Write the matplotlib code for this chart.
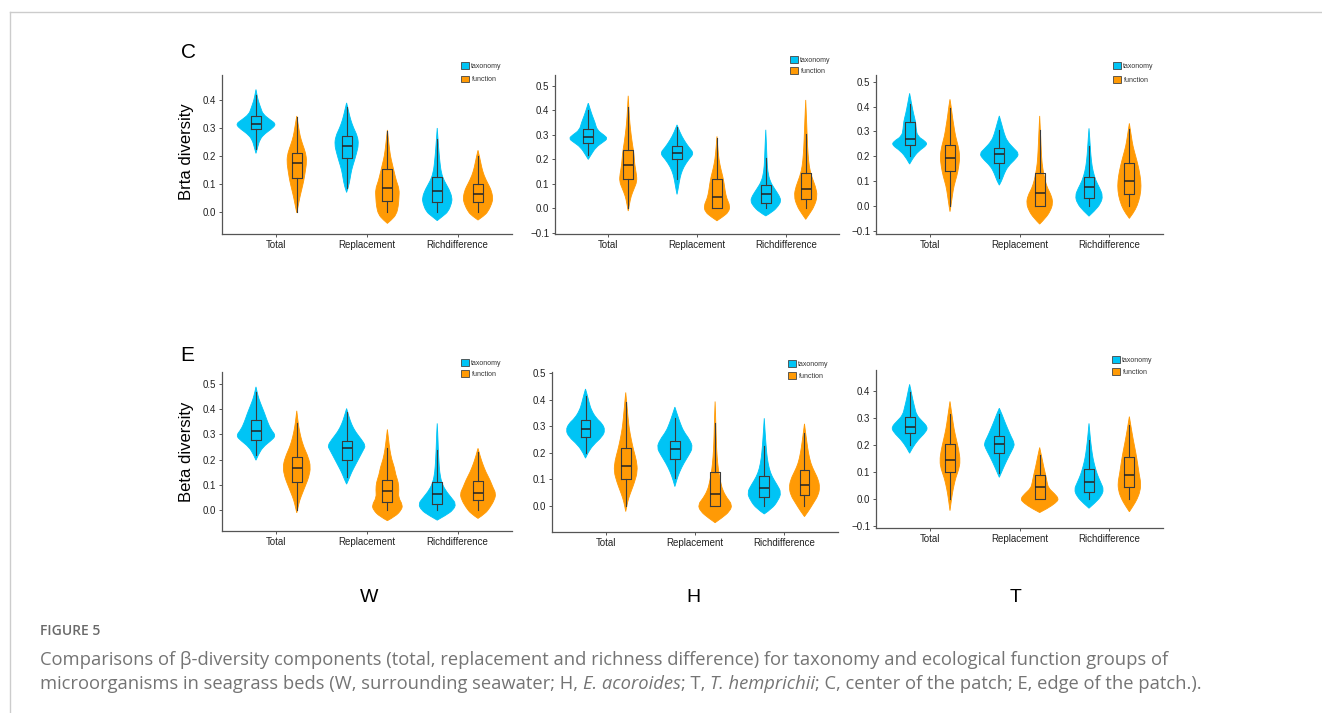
import numpy as np
import matplotlib
matplotlib.use("Agg")
import matplotlib.pyplot as plt
from matplotlib.patches import Patch, PathPatch
from matplotlib.path import Path
from matplotlib.lines import Line2D

plt.rcParams['font.family'] = ['Liberation Sans', 'DejaVu Sans']

groups = ['Total', 'Replacement', 'Richdifference']
series = ['taxonomy', 'function']
colors = ['#00C4F5', '#FF9A05']

# box stats per group: [whisker low, q1, median, q3, whisker high]
box_cw_tax = [[0.223, 0.295, 0.316, 0.344, 0.418], [0.084, 0.192, 0.235, 0.273, 0.374], [0.0, 0.033, 0.073, 0.125, 0.26]]
box_cw_fun = [[0.0, 0.119, 0.173, 0.211, 0.338], [0.0, 0.039, 0.084, 0.152, 0.29], [0.0, 0.036, 0.062, 0.099, 0.2]]
box_ch_tax = [[0.22, 0.267, 0.29, 0.324, 0.402], [0.118, 0.2, 0.226, 0.253, 0.332], [0.0, 0.023, 0.057, 0.096, 0.206]]
box_ch_fun = [[0.0, 0.118, 0.178, 0.24, 0.416], [0.0, 0.0, 0.046, 0.121, 0.287], [0.0, 0.039, 0.08, 0.145, 0.303]]
box_ct_tax = [[0.2, 0.245, 0.271, 0.336, 0.41], [0.11, 0.173, 0.207, 0.231, 0.305], [0.0, 0.03, 0.074, 0.114, 0.24]]
box_ct_fun = [[0.0, 0.14, 0.194, 0.243, 0.392], [0.0, 0.0, 0.05, 0.13, 0.305], [0.0, 0.046, 0.098, 0.171, 0.308]]
box_ew_tax = [[0.218, 0.28, 0.313, 0.357, 0.47], [0.132, 0.198, 0.245, 0.275, 0.39], [0.0, 0.024, 0.063, 0.11, 0.238]]
box_ew_fun = [[0.0, 0.112, 0.167, 0.209, 0.347], [0.0, 0.033, 0.075, 0.119, 0.245], [0.0, 0.04, 0.066, 0.116, 0.231]]
box_eh_tax = [[0.198, 0.261, 0.29, 0.322, 0.412], [0.104, 0.178, 0.215, 0.246, 0.33], [0.0, 0.035, 0.069, 0.114, 0.224]]
box_eh_fun = [[0.0, 0.1, 0.152, 0.217, 0.393], [0.0, 0.0, 0.044, 0.126, 0.312], [0.0, 0.04, 0.079, 0.136, 0.276]]
box_et_tax = [[0.2, 0.245, 0.267, 0.302, 0.396], [0.095, 0.169, 0.202, 0.234, 0.314], [0.0, 0.027, 0.062, 0.11, 0.218]]
box_et_fun = [[0.0, 0.1, 0.144, 0.203, 0.314], [0.0, 0.0, 0.046, 0.089, 0.162], [0.0, 0.046, 0.09, 0.156, 0.273]]

# violin outlines: (value, relative half width)
vio_cw_tax = [
    [(0.209, 0), (0.23, 0.08), (0.26, 0.2), (0.28, 0.45), (0.30, 0.85), (0.315, 1.0), (0.33, 0.7), (0.35, 0.35), (0.37, 0.25), (0.39, 0.15), (0.41, 0.07), (0.438, 0)],
    [(0.069, 0), (0.09, 0.1), (0.12, 0.18), (0.15, 0.25), (0.18, 0.38), (0.21, 0.5), (0.24, 0.6), (0.27, 0.55), (0.30, 0.35), (0.33, 0.2), (0.36, 0.1), (0.39, 0)],
    [(-0.032, 0), (-0.015, 0.3), (0.0, 0.55), (0.03, 0.72), (0.05, 0.75), (0.08, 0.6), (0.11, 0.35), (0.14, 0.2), (0.18, 0.13), (0.22, 0.08), (0.26, 0.04), (0.30, 0)],
]
vio_cw_fun = [
    [(-0.004, 0), (0.02, 0.07), (0.05, 0.15), (0.08, 0.25), (0.11, 0.35), (0.14, 0.42), (0.18, 0.5), (0.21, 0.45), (0.24, 0.3), (0.27, 0.17), (0.30, 0.1), (0.343, 0)],
    [(-0.042, 0), (-0.03, 0.2), (-0.01, 0.45), (0.02, 0.55), (0.05, 0.58), (0.08, 0.6), (0.11, 0.45), (0.14, 0.35), (0.17, 0.25), (0.20, 0.15), (0.24, 0.08), (0.293, 0)],
    [(-0.03, 0), (-0.015, 0.3), (0.0, 0.5), (0.03, 0.7), (0.05, 0.75), (0.08, 0.65), (0.10, 0.5), (0.13, 0.3), (0.16, 0.18), (0.19, 0.1), (0.22, 0)],
]
vio_ch_tax = [
    [(0.20, 0), (0.22, 0.15), (0.25, 0.4), (0.27, 0.75), (0.285, 1.0), (0.30, 0.8), (0.32, 0.45), (0.35, 0.35), (0.38, 0.2), (0.41, 0.08), (0.43, 0)],
    [(0.057, 0), (0.08, 0.06), (0.11, 0.12), (0.14, 0.2), (0.17, 0.35), (0.20, 0.6), (0.225, 0.87), (0.25, 0.6), (0.28, 0.35), (0.31, 0.15), (0.341, 0)],
    [(-0.031, 0), (-0.015, 0.35), (0.01, 0.65), (0.03, 0.78), (0.05, 0.7), (0.08, 0.45), (0.11, 0.22), (0.15, 0.1), (0.20, 0.06), (0.25, 0.04), (0.321, 0)],
]
vio_ch_fun = [
    [(-0.011, 0), (0.02, 0.07), (0.05, 0.15), (0.08, 0.3), (0.11, 0.45), (0.14, 0.42), (0.18, 0.33), (0.22, 0.3), (0.26, 0.22), (0.30, 0.15), (0.35, 0.08), (0.40, 0.04), (0.46, 0)],
    [(-0.051, 0), (-0.035, 0.3), (-0.015, 0.6), (0.01, 0.67), (0.04, 0.5), (0.07, 0.42), (0.10, 0.37), (0.13, 0.3), (0.16, 0.2), (0.20, 0.1), (0.25, 0.04), (0.294, 0)],
    [(-0.045, 0), (-0.02, 0.22), (0.01, 0.45), (0.05, 0.6), (0.09, 0.5), (0.13, 0.3), (0.17, 0.18), (0.22, 0.12), (0.28, 0.08), (0.35, 0.05), (0.443, 0)],
]
vio_ct_tax = [
    [(0.168, 0), (0.19, 0.15), (0.22, 0.45), (0.245, 0.9), (0.26, 0.8), (0.28, 0.4), (0.31, 0.33), (0.34, 0.3), (0.37, 0.2), (0.41, 0.1), (0.453, 0)],
    [(0.083, 0), (0.10, 0.12), (0.13, 0.25), (0.16, 0.45), (0.19, 0.85), (0.21, 1.0), (0.23, 0.75), (0.26, 0.4), (0.29, 0.25), (0.32, 0.15), (0.362, 0)],
    [(-0.042, 0), (-0.02, 0.3), (0.01, 0.6), (0.04, 0.7), (0.07, 0.55), (0.10, 0.35), (0.14, 0.2), (0.18, 0.12), (0.23, 0.07), (0.27, 0.04), (0.312, 0)],
]
vio_ct_fun = [
    [(-0.024, 0), (0.0, 0.05), (0.04, 0.12), (0.08, 0.2), (0.12, 0.35), (0.16, 0.45), (0.20, 0.5), (0.24, 0.42), (0.28, 0.28), (0.32, 0.2), (0.36, 0.12), (0.40, 0.06), (0.429, 0)],
    [(-0.074, 0), (-0.05, 0.3), (-0.02, 0.55), (0.01, 0.67), (0.04, 0.6), (0.07, 0.4), (0.10, 0.28), (0.13, 0.2), (0.17, 0.12), (0.22, 0.08), (0.28, 0.05), (0.362, 0)],
    [(-0.051, 0), (-0.03, 0.2), (0.0, 0.4), (0.04, 0.55), (0.08, 0.6), (0.12, 0.55), (0.16, 0.45), (0.20, 0.32), (0.24, 0.18), (0.28, 0.1), (0.332, 0)],
]
vio_ew_tax = [
    [(0.198, 0), (0.22, 0.12), (0.25, 0.35), (0.275, 0.75), (0.295, 1.0), (0.32, 0.75), (0.35, 0.58), (0.38, 0.45), (0.41, 0.3), (0.44, 0.15), (0.47, 0.05), (0.489, 0)],
    [(0.103, 0), (0.12, 0.1), (0.15, 0.25), (0.18, 0.45), (0.21, 0.65), (0.24, 0.85), (0.255, 0.95), (0.28, 0.75), (0.31, 0.45), (0.34, 0.25), (0.37, 0.12), (0.403, 0)],
    [(-0.04, 0), (-0.02, 0.45), (0.0, 0.8), (0.025, 0.95), (0.05, 0.7), (0.08, 0.4), (0.11, 0.22), (0.15, 0.12), (0.20, 0.08), (0.25, 0.05), (0.30, 0.03), (0.344, 0)],
]
vio_ew_fun = [
    [(-0.011, 0), (0.01, 0.06), (0.04, 0.15), (0.07, 0.3), (0.10, 0.45), (0.13, 0.6), (0.17, 0.7), (0.21, 0.58), (0.25, 0.35), (0.29, 0.2), (0.33, 0.1), (0.36, 0.05), (0.394, 0)],
    [(-0.042, 0), (-0.025, 0.4), (0.0, 0.7), (0.02, 0.77), (0.05, 0.55), (0.08, 0.58), (0.11, 0.55), (0.14, 0.42), (0.17, 0.35), (0.20, 0.22), (0.24, 0.12), (0.28, 0.06), (0.32, 0)],
    [(-0.033, 0), (-0.015, 0.35), (0.01, 0.6), (0.04, 0.82), (0.065, 0.9), (0.09, 0.75), (0.12, 0.6), (0.15, 0.4), (0.18, 0.25), (0.21, 0.12), (0.245, 0)],
]
vio_eh_tax = [
    [(0.18, 0), (0.20, 0.12), (0.23, 0.4), (0.26, 0.85), (0.285, 1.0), (0.31, 0.85), (0.33, 0.55), (0.36, 0.3), (0.39, 0.18), (0.42, 0.08), (0.44, 0)],
    [(0.073, 0), (0.10, 0.1), (0.13, 0.25), (0.16, 0.45), (0.19, 0.7), (0.22, 0.92), (0.25, 0.75), (0.28, 0.45), (0.31, 0.28), (0.34, 0.14), (0.372, 0)],
    [(-0.03, 0), (-0.01, 0.4), (0.02, 0.7), (0.05, 0.87), (0.08, 0.65), (0.11, 0.4), (0.14, 0.25), (0.18, 0.15), (0.22, 0.1), (0.27, 0.05), (0.33, 0)],
]
vio_eh_fun = [
    [(-0.021, 0), (0.0, 0.05), (0.03, 0.15), (0.06, 0.3), (0.09, 0.45), (0.13, 0.6), (0.17, 0.55), (0.21, 0.4), (0.25, 0.28), (0.29, 0.18), (0.33, 0.12), (0.38, 0.06), (0.427, 0)],
    [(-0.063, 0), (-0.045, 0.35), (-0.02, 0.75), (0.005, 0.87), (0.03, 0.6), (0.06, 0.38), (0.09, 0.28), (0.12, 0.2), (0.16, 0.13), (0.21, 0.08), (0.27, 0.05), (0.33, 0.03), (0.393, 0)],
    [(-0.04, 0), (-0.02, 0.2), (0.01, 0.45), (0.04, 0.7), (0.07, 0.78), (0.10, 0.7), (0.13, 0.5), (0.16, 0.32), (0.20, 0.2), (0.24, 0.12), (0.28, 0.05), (0.309, 0)],
]
vio_et_tax = [
    [(0.169, 0), (0.19, 0.15), (0.22, 0.45), (0.245, 0.8), (0.265, 0.93), (0.29, 0.6), (0.31, 0.35), (0.34, 0.25), (0.37, 0.15), (0.40, 0.07), (0.423, 0)],
    [(0.08, 0), (0.10, 0.12), (0.13, 0.3), (0.16, 0.5), (0.19, 0.72), (0.205, 0.77), (0.23, 0.6), (0.26, 0.42), (0.29, 0.25), (0.31, 0.15), (0.335, 0)],
    [(-0.034, 0), (-0.015, 0.3), (0.01, 0.62), (0.035, 0.75), (0.06, 0.6), (0.09, 0.42), (0.12, 0.3), (0.15, 0.2), (0.19, 0.12), (0.23, 0.06), (0.279, 0)],
]
vio_et_fun = [
    [(-0.043, 0), (-0.01, 0.06), (0.02, 0.12), (0.05, 0.2), (0.08, 0.3), (0.11, 0.45), (0.14, 0.52), (0.18, 0.45), (0.22, 0.32), (0.26, 0.2), (0.30, 0.12), (0.33, 0.06), (0.36, 0)],
    [(-0.05, 0), (-0.035, 0.4), (-0.015, 0.8), (0.0, 0.98), (0.02, 0.75), (0.04, 0.45), (0.06, 0.38), (0.09, 0.3), (0.12, 0.2), (0.15, 0.12), (0.19, 0)],
    [(-0.047, 0), (-0.025, 0.2), (0.0, 0.4), (0.03, 0.55), (0.06, 0.58), (0.09, 0.5), (0.13, 0.42), (0.17, 0.33), (0.21, 0.22), (0.25, 0.12), (0.304, 0)],
]

panels = [
    # data, axes pixel box (left, top, right, bottom), ylim, yticks, legend (x, y, spacing)
    (box_cw_tax, box_cw_fun, vio_cw_tax, vio_cw_fun, (222, 75, 512, 234), (-0.08, 0.49), [0, 0.1, 0.2, 0.3, 0.4], (461, 62, 0.85)),
    (box_ch_tax, box_ch_fun, vio_ch_tax, vio_ch_fun, (555, 75, 839, 234), (-0.105, 0.545), [-0.1, 0, 0.1, 0.2, 0.3, 0.4, 0.5], (790, 56, 0.5)),
    (box_ct_tax, box_ct_fun, vio_ct_tax, vio_ct_fun, (876, 75, 1163, 234), (-0.114, 0.527), [-0.1, 0, 0.1, 0.2, 0.3, 0.4, 0.5], (1113, 62, 0.9)),
    (box_ew_tax, box_ew_fun, vio_ew_tax, vio_ew_fun, (222, 372, 512, 531), (-0.083, 0.548), [0, 0.1, 0.2, 0.3, 0.4, 0.5], (461, 359, 0.5)),
    (box_eh_tax, box_eh_fun, vio_eh_tax, vio_eh_fun, (552, 372, 838, 532), (-0.098, 0.504), [0, 0.1, 0.2, 0.3, 0.4, 0.5], (788, 360, 0.6)),
    (box_et_tax, box_et_fun, vio_et_tax, vio_et_fun, (876, 370, 1163, 528), (-0.107, 0.476), [-0.1, 0, 0.1, 0.2, 0.3, 0.4], (1112, 356, 0.6)),
]

W, H = 1322, 713
fig = plt.figure(figsize=(W / 100, H / 100), dpi=100)
fig.patch.set_facecolor('white')

# page frame
fig.add_artist(Line2D([10 / W, 1], [1 - 12 / H, 1 - 12 / H], color='#cccccc', lw=1))
fig.add_artist(Line2D([10 / W, 10 / W], [0, 1 - 12 / H], color='#cccccc', lw=1))

dodge = 0.225
max_hw = 0.22


def spline_side(pts):
    # quadratic curve through midpoints, anchored at both ends
    verts, codes = [], []
    for i in range(1, len(pts) - 1):
        end = pts[-1] if i == len(pts) - 2 else (pts[i] + pts[i + 1]) / 2
        verts += [pts[i], end]
        codes += [Path.CURVE3, Path.CURVE3]
    return verts, codes


def violin_patch(pos, prof, color):
    y = prof[:, 0]
    w = prof[:, 1] * max_hw
    right = np.column_stack([pos + w, y])
    left = np.column_stack([pos - w, y])[::-1]
    v1, c1 = spline_side(right)
    v2, c2 = spline_side(left)
    verts = [right[0]] + v1 + v2 + [right[0]]
    codes = [Path.MOVETO] + c1 + c2 + [Path.CLOSEPOLY]
    return PathPatch(Path(verts, codes), facecolor=color, edgecolor=color, lw=0.6, zorder=2)


for box_t, box_f, vio_t, vio_f, (l, t, r, b), ylim, yt, (lx, ly, lsp) in panels:
    ax = fig.add_axes([l / W, 1 - b / H, (r - l) / W, (b - t) / H])
    for i, g in enumerate(groups):
        for k, (bx, vio) in enumerate([(box_t, vio_t), (box_f, vio_f)]):
            pos = i + 1 + (-dodge if k == 0 else dodge)
            ax.add_patch(violin_patch(pos, np.array(vio[i], dtype=float), colors[k]))
            lo, q1, med, q3, hi = bx[i]
            stats = [dict(whislo=lo, q1=q1, med=med, q3=q3, whishi=hi, fliers=[])]
            ax.bxp(stats, positions=[pos], widths=0.11, showfliers=False, showcaps=False,
                   manage_ticks=False,
                   boxprops=dict(color='#3a3a3a', lw=0.8),
                   whiskerprops=dict(color='#3a3a3a', lw=0.8),
                   medianprops=dict(color='#222222', lw=1.1), zorder=3)
    ax.set_xlim(0.4, 3.6)
    ax.set_ylim(*ylim)
    ax.set_yticks(yt)
    ax.set_xticks([1, 2, 3])
    ax.set_xticklabels(groups)
    for s in ['top', 'right']:
        ax.spines[s].set_visible(False)
    for s in ['left', 'bottom']:
        ax.spines[s].set_color('#555555')
        ax.spines[s].set_linewidth(0.9)
    ax.tick_params(axis='both', labelsize=7, length=2, width=0.7, color='#555555', pad=2, labelcolor='#222222')
    ax.set_facecolor('none')
    handles = [Patch(facecolor=colors[0], edgecolor='#444444', lw=0.6),
               Patch(facecolor=colors[1], edgecolor='#444444', lw=0.6)]
    leg = ax.legend(handles, series, loc='upper left', bbox_to_anchor=(lx / W, 1 - ly / H),
                    bbox_transform=fig.transFigure, frameon=False, fontsize=5,
                    handlelength=1.1, handleheight=1.1, handletextpad=0.4,
                    labelspacing=lsp, borderpad=0, borderaxespad=0)
    for txt in leg.get_texts():
        txt.set_color('#333333')

fig.text(188 / W, 1 - 52 / H, 'C', fontsize=15, ha='center', va='center')
fig.text(187 / W, 1 - 355 / H, 'E', fontsize=15, ha='center', va='center')
fig.text(187 / W, 1 - 152 / H, 'Brta diversity', fontsize=12, rotation=90, ha='center', va='center')
fig.text(187 / W, 1 - 452 / H, 'Beta diversity', fontsize=12, rotation=90, ha='center', va='center')

for lab, x in zip(['W', 'H', 'T'], [369, 693, 1016]):
    fig.text(x / W, 1 - 597 / H, lab, fontsize=14, ha='center', va='center')

cap_font = ['Open Sans', 'DejaVu Sans']
fig.text(40 / W, 1 - 631 / H, 'FIGURE 5', fontsize=10, color='#6a6a6a', family=cap_font,
         fontweight='semibold', va='center')
fig.text(40 / W, 1 - 660 / H,
         'Comparisons of \u03b2-diversity components (total, replacement and richness difference) '
         'for taxonomy and ecological function groups of',
         fontsize=13.2, color='#747474', family=cap_font, va='center')

# second caption line with italic species names
pieces = [('microorganisms in seagrass beds (W, surrounding seawater; H, ', 'normal'),
          ('E. acoroides', 'italic'), ('; T, ', 'normal'), ('T. hemprichii', 'italic'),
          ('; C, center of the patch; E, edge of the patch.).', 'normal')]
renderer = fig.canvas.get_renderer()
x = 40
for txt, style in pieces:
    tt = fig.text(x / W, 1 - 684 / H, txt, fontsize=13.2, color='#747474', family=cap_font,
                  style=style, va='center')
    x += tt.get_window_extent(renderer).width

fig.savefig('out.png', dpi=100, facecolor='white')
